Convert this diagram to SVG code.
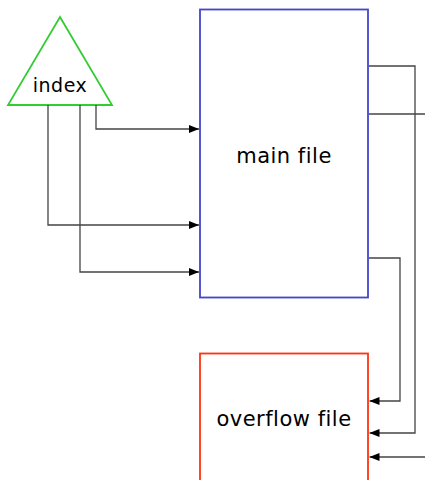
<svg xmlns="http://www.w3.org/2000/svg" width="425" height="480" viewBox="0 0 425 480">
<style>
.c{fill:none;stroke:#444;stroke-width:1.3}
.t{font-family:"DejaVu Sans","Noto Sans",sans-serif;fill:#000;text-anchor:middle;letter-spacing:0.5px}
</style>
<defs>
<marker id="a" viewBox="0 0 10 10" refX="10" refY="5" markerWidth="10" markerHeight="10" markerUnits="userSpaceOnUse" orient="auto">
<path d="M0,1 L10,5 L0,9 Z" fill="#000"/>
</marker>
</defs>
<rect width="425" height="480" fill="#fff"/>
<g id="index">
<polygon points="60,17 112,105 8,105" fill="#fff" stroke="#33cc33" stroke-width="1.8"/>
<text class="t" x="60" y="92" font-size="19">index</text>
</g>
<g id="main">
<rect x="200" y="9.5" width="168" height="288" fill="#fff" stroke="#4444cc" stroke-width="1.8"/>
<text class="t" x="284" y="163" font-size="21">main file</text>
</g>
<g id="overflow">
<rect x="200" y="353.5" width="168" height="140" fill="#fff" stroke="#ff3311" stroke-width="1.8"/>
<text class="t" x="284" y="426" font-size="21">overflow file</text>
</g>
<g id="connectors">
<polyline class="c" points="96,105 96,129 199,129" marker-end="url(#a)"/>
<polyline class="c" points="48,105 48,225 199,225" marker-end="url(#a)"/>
<polyline class="c" points="80,105 80,272 199,272" marker-end="url(#a)"/>
<polyline class="c" points="369,66 415,66 415,433 369.5,433" marker-end="url(#a)"/>
<polyline class="c" points="369,114 425,114"/>
<polyline class="c" points="369,258 400,258 400,401 369.5,401" marker-end="url(#a)"/>
<polyline class="c" points="425,457 369.5,457" marker-end="url(#a)"/>
</g>
</svg>
